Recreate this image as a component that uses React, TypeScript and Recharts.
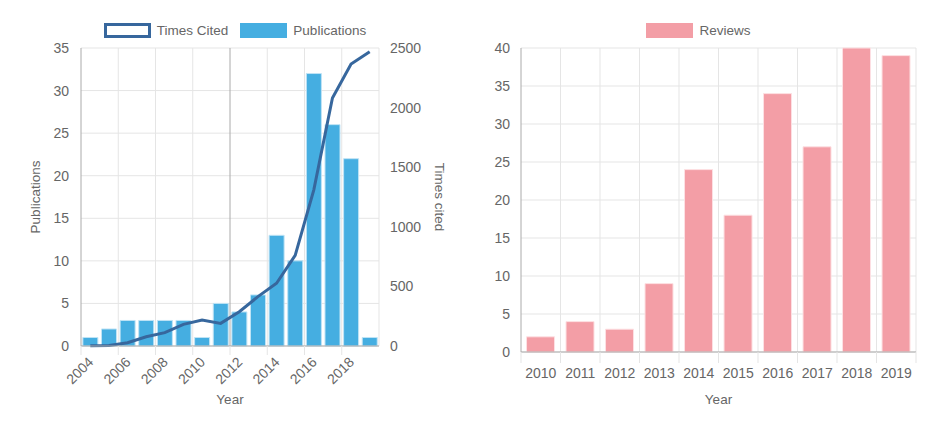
import React from 'react';
import {
  ComposedChart,
  BarChart,
  Bar,
  Line,
  XAxis,
  YAxis,
  CartesianGrid,
  Legend,
  Label,
} from 'recharts';

const years = ['2004', '2005', '2006', '2007', '2008', '2009', '2010', '2011', '2012', '2013', '2014', '2015', '2016', '2017', '2018', '2019'];
const publications = [1, 2, 3, 3, 3, 3, 1, 5, 4, 6, 13, 10, 32, 26, 22, 1];
const timesCited = [3, 5, 28, 78, 112, 182, 218, 190, 288, 414, 526, 760, 1310, 2080, 2366, 2469];

const reviewYears = ['2010', '2011', '2012', '2013', '2014', '2015', '2016', '2017', '2018', '2019'];
const reviews = [2, 4, 3, 9, 24, 18, 34, 27, 40, 39];

const pubTicks = [0, 5, 10, 15, 20, 25, 30, 35];
const citedTicks = [0, 500, 1000, 1500, 2000, 2500];
const reviewTicks = [0, 5, 10, 15, 20, 25, 30, 35, 40];

const leftData = years.map((y, i) => ({ year: y, pubs: publications[i], cited: timesCited[i] }));
const rightData = reviewYears.map((y, i) => ({ year: y, reviews: reviews[i] }));

const FONT = '"Liberation Sans", Arial, Helvetica, sans-serif';
const TXT = '#666';
const GRID = '#e5e5e5';
const AXIS = '#aaa';
const BLUE = '#45aee1';
const LINE = '#37679d';
const PINK = '#f39ea6';

const tickStyle = { fontSize: 14, fill: TXT };
const labelStyle = { fontSize: 13.5, fill: TXT };

// chart sizes
const L_W = 462, L_H = 410;
const L_MARGIN = { top: 24, right: 31, bottom: 12, left: 23 };
const R_W = 461, R_H = 410;
const R_MARGIN = { top: 24, right: 15, bottom: 12, left: 11 };
const R_YW = 40;
const rBand = (R_W - R_MARGIN.left - R_MARGIN.right - R_YW) / reviewYears.length;
const lBand = (L_W - L_MARGIN.left - L_MARGIN.right - 50 - 60) / years.length;

const LegendBox = ({ items }: { items: { label: string; fill: string; stroke: string; sw: number }[] }) => (
  <div style={{ display: 'flex', justifyContent: 'center', alignItems: 'center', height: 16, fontFamily: FONT, fontSize: 13.5, color: TXT }}>
    {items.map((it) => (
      <div key={it.label} style={{ display: 'flex', alignItems: 'center', margin: '0 6px' }}>
        <span style={{ display: 'inline-block', width: 47 - it.sw * 2, height: 15 - it.sw * 2, background: it.fill, border: `${it.sw}px solid ${it.stroke}`, marginRight: 6 }} />
        <span>{it.label}</span>
      </div>
    ))}
  </div>
);

const LeftTick = (props: any) => {
  const { x, y, payload } = props;
  return (
    <g>
      <line x1={x - lBand / 2} x2={x - lBand / 2} y1={y - 8} y2={y + 1} stroke={GRID} />
      <text x={x + 4} y={y + 9} textAnchor="end" fontSize={14} fill={TXT} transform={`rotate(-45 ${x + 4} ${y + 9})`}>
        {payload.value}
      </text>
    </g>
  );
};

const RightTick = (props: any) => {
  const { x, y, payload, index } = props;
  return (
    <g>
      <line x1={x - rBand / 2} x2={x - rBand / 2} y1={y - 8} y2={y + 3} stroke={GRID} />
      {index === reviewYears.length - 1 && (
        <line x1={x + rBand / 2} x2={x + rBand / 2} y1={y - 8} y2={y + 3} stroke={GRID} />
      )}
      <text x={x} y={y + 18} textAnchor="middle" fontSize={14} fill={TXT}>
        {payload.value}
      </text>
    </g>
  );
};

const PubsChart = () => (
  <ComposedChart width={L_W} height={L_H} data={leftData} margin={L_MARGIN}>
    <CartesianGrid
      yAxisId="left"
      stroke={GRID}
      verticalCoordinatesGenerator={({ offset }: any) =>
        [2, 4, 6, 10, 12, 14, 16].map((k) => offset.left + (k * offset.width) / years.length)
      }
    />
    <CartesianGrid
      yAxisId="left"
      stroke="#aaa"
      horizontal={false}
      verticalCoordinatesGenerator={({ offset }: any) => [offset.left + offset.width / 2]}
    />
    <Legend
      verticalAlign="top"
      wrapperStyle={{ top: 14 }}
      content={() => (
        <LegendBox
          items={[
            { label: 'Times Cited', fill: '#fff', stroke: LINE, sw: 3 },
            { label: 'Publications', fill: BLUE, stroke: BLUE, sw: 0 },
          ]}
        />
      )}
    />
    <XAxis
      dataKey="year"
      interval={1}
      tick={<LeftTick />}
      tickLine={false}
      stroke={AXIS}
      height={60}
    >
      <Label value="Year" position="insideBottom" offset={2} style={labelStyle} />
    </XAxis>
    <YAxis
      yAxisId="left"
      width={50}
      domain={[0, 35]}
      ticks={pubTicks}
      tick={tickStyle}
      tickLine={false}
      tickSize={0}
      tickMargin={12}
      stroke={AXIS}
    >
      <Label value="Publications" angle={-90} position="insideLeft" offset={4} style={{ ...labelStyle, textAnchor: 'middle' }} />
    </YAxis>
    <YAxis
      yAxisId="right"
      orientation="right"
      width={60}
      domain={[0, 2500]}
      ticks={citedTicks}
      tick={{ ...tickStyle, textAnchor: 'start' }}
      tickLine={false}
      axisLine={false}
      tickSize={0}
      tickMargin={11}
    >
      <Label value="Times cited" angle={90} position="insideRight" offset={-1} style={{ ...labelStyle, textAnchor: 'middle' }} />
    </YAxis>
    <Bar yAxisId="left" dataKey="pubs" fill={BLUE} stroke="#bfe3f5" strokeWidth={1} barCategoryGap="14%" isAnimationActive={false} />
    <Line yAxisId="right" type="linear" dataKey="cited" stroke={LINE} strokeWidth={3} dot={false} isAnimationActive={false} />
  </ComposedChart>
);

const ReviewsChart = () => (
  <BarChart width={R_W} height={R_H} data={rightData} margin={R_MARGIN} barCategoryGap="14%">
    <CartesianGrid
      stroke={GRID}
      verticalCoordinatesGenerator={({ offset }: any) =>
        reviewYears.map((_, k) => offset.left + ((k + 1) * offset.width) / reviewYears.length)
      }
    />
    <Legend
      verticalAlign="top"
      wrapperStyle={{ top: 14 }}
      content={() => <LegendBox items={[{ label: 'Reviews', fill: PINK, stroke: PINK, sw: 0 }]} />}
    />
    <XAxis dataKey="year" tick={<RightTick />} tickLine={false} stroke={AXIS} height={54} interval={0}>
      <Label value="Year" position="insideBottom" offset={2} style={labelStyle} />
    </XAxis>
    <YAxis
      width={R_YW}
      domain={[0, 40]}
      ticks={reviewTicks}
      tick={tickStyle}
      tickLine={false}
      tickSize={0}
      tickMargin={11}
      stroke={AXIS}
    />
    <Bar dataKey="reviews" fill={PINK} stroke="#fde0e3" strokeWidth={1} isAnimationActive={false} />
  </BarChart>
);

export default function App() {
  return (
    <div style={{ position: 'relative', width: 923, height: 411, fontFamily: FONT, background: '#fff' }}>
      <div style={{ position: 'absolute', left: 0, top: 0 }}>
        <PubsChart />
      </div>
      <div style={{ position: 'absolute', left: 462, top: 0 }}>
        <ReviewsChart />
      </div>
    </div>
  );
}
